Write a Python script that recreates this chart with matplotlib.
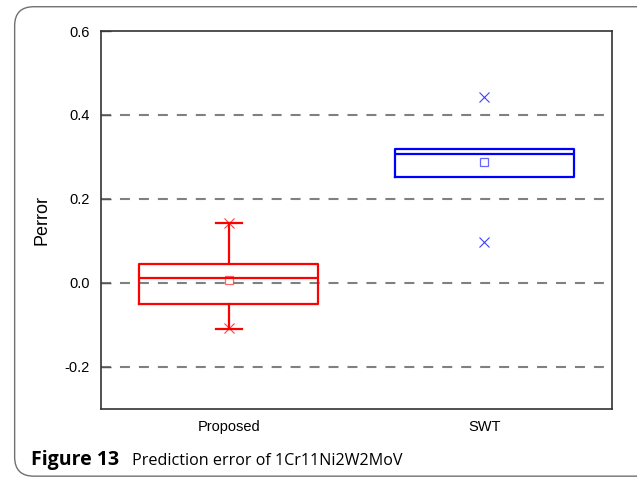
import matplotlib.pyplot as plt
from matplotlib.patches import FancyBboxPatch

# box statistics for the two methods
methods = ["Proposed", "SWT"]
q1 = [-0.051, 0.252]
medians = [0.012, 0.307]
q3 = [0.045, 0.318]
means = [0.008, 0.288]
whislo = [-0.109, 0.252]
whishi = [0.144, 0.318]
minvals = [-0.107, 0.098]
maxvals = [0.144, 0.443]
colors = ["#ff0000", "#0000ff"]

fig = plt.figure(figsize=(6.37, 4.8), dpi=100)
ax = fig.add_axes([0.1586, 0.148, 0.8022, 0.7874])

# rounded caption frame around the whole figure
frame = FancyBboxPatch((0.023, 0.008), 1.05, 0.978, boxstyle="round,pad=0,rounding_size=0.03",
                       transform=fig.transFigure, fill=False, edgecolor="#707070", linewidth=1.0,
                       clip_on=False, mutation_aspect=637 / 480)
fig.patches.append(frame)

for i, m in enumerate(methods):
    st = [dict(label=m, q1=q1[i], med=medians[i], q3=q3[i],
               whislo=whislo[i], whishi=whishi[i], fliers=[])]
    c = colors[i]
    ax.bxp(st, positions=[i + 1], widths=0.7, showcaps=(i == 0),
           capwidths=0.1, manage_ticks=False,
           boxprops=dict(color=c, linewidth=1.6),
           medianprops=dict(color=c, linewidth=1.6),
           whiskerprops=dict(color=c, linewidth=1.6),
           capprops=dict(color=c, linewidth=1.6))
    # mean as a hollow square, min/max as crosses
    ax.plot(i + 1, means[i], linestyle="none", marker="s", markerfacecolor="none",
            markeredgecolor=c, markersize=6, markeredgewidth=0.9, alpha=0.6)
    ax.plot([i + 1, i + 1], [minvals[i], maxvals[i]], linestyle="none", marker="x",
            color=c, markersize=7, markeredgewidth=0.8, alpha=0.75)

ax.set_xlim(0.5, 2.5)
ax.set_ylim(-0.3, 0.6)
ax.set_xticks([1, 2])
ax.set_xticklabels(methods, fontsize=10.5, family="Liberation Sans")
ax.set_yticks([-0.2, 0.0, 0.2, 0.4, 0.6])
ax.set_yticklabels(["-0.2", "0.0", "0.2", "0.4", "0.6"], fontsize=10.5, family="Liberation Sans")
ax.tick_params(axis="x", length=0, pad=8)
ax.tick_params(axis="y", direction="in", length=7, width=1, color="#555555", pad=8)
ax.set_ylabel("Perror", fontsize=13, family="Liberation Sans", labelpad=10)

for y in [-0.2, 0.0, 0.2, 0.4]:
    ax.axhline(y, color="#808080", linewidth=1.5, linestyle=(0, (4.8, 4.3)), zorder=0)

for s in ax.spines.values():
    s.set_color("#333333")
    s.set_linewidth(1.2)

fig.text(0.049, 0.031, "Figure 13", fontsize=14, fontweight="bold", family="Open Sans")
fig.text(0.207, 0.031, "Prediction error of 1Cr11Ni2W2MoV", fontsize=11.6, family="Open Sans")

fig.savefig("out.png", dpi=100)
